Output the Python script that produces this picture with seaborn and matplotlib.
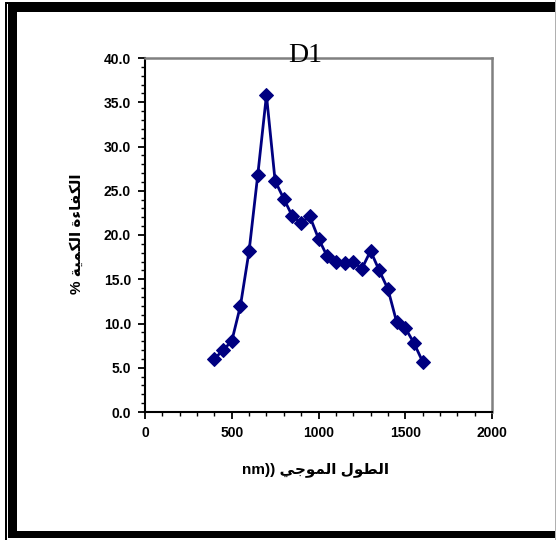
import numpy as np
import pandas as pd
import matplotlib
matplotlib.use('Agg')
import matplotlib.pyplot as plt
from matplotlib.patches import Rectangle
from matplotlib.ticker import MultipleLocator, FormatStrFormatter
import seaborn as sns

# data
wavelength = [400, 450, 500, 550, 600, 650, 700, 750, 800, 850, 900, 950, 1000,
              1050, 1100, 1150, 1200, 1250, 1300, 1350, 1400, 1450, 1500, 1550, 1600]
efficiency = [6.0, 7.0, 8.0, 12.0, 18.2, 26.8, 35.8, 26.1, 24.1, 22.1, 21.4, 22.1, 19.6,
              17.6, 17.0, 16.8, 17.0, 16.2, 18.2, 16.0, 13.9, 10.2, 9.5, 7.8, 5.7]
x_ticks = [0, 500, 1000, 1500, 2000]
y_ticks = [0, 5, 10, 15, 20, 25, 30, 35, 40]
title = 'D1'
xlabel_ar = ['الطول', 'الموجي']
xlabel_unit = 'nm))'
ylabel_ar = ['الكفاءة', 'الكمية']

# --- minimal arabic shaping (matplotlib has no bidi / joining) ---
FORMS = {  # isolated, final, initial, medial
    'ا': ('\uFE8D', '\uFE8E', None, None),
    'ل': ('\uFEDD', '\uFEDE', '\uFEDF', '\uFEE0'),
    'ك': ('\uFED9', '\uFEDA', '\uFEDB', '\uFEDC'),
    'ف': ('\uFED1', '\uFED2', '\uFED3', '\uFED4'),
    'ء': ('\uFE80', None, None, None),
    'ة': ('\uFE93', '\uFE94', None, None),
    'م': ('\uFEE1', '\uFEE2', '\uFEE3', '\uFEE4'),
    'ي': ('\uFEF1', '\uFEF2', '\uFEF3', '\uFEF4'),
    'ط': ('\uFEC1', '\uFEC2', '\uFEC3', '\uFEC4'),
    'و': ('\uFEED', '\uFEEE', None, None),
    'ج': ('\uFE9D', '\uFE9E', '\uFE9F', '\uFEA0'),
}


def dual(c):
    return c in FORMS and FORMS[c][2] is not None


def joins_right(c):
    return c in FORMS and FORMS[c][1] is not None


def shape(word):
    out = []
    for i, c in enumerate(word):
        if c not in FORMS:
            out.append(c)
            continue
        prev = i > 0 and dual(word[i - 1]) and joins_right(c)
        nxt = i < len(word) - 1 and dual(c) and joins_right(word[i + 1])
        f = FORMS[c]
        if prev and nxt:
            g = f[3]
        elif prev:
            g = f[1]
        elif nxt:
            g = f[2]
        else:
            g = f[0]
        out.append(g)
    return ''.join(out)[::-1]


def visual(words, left=''):
    # words in logical (rtl) order -> visual left to right string
    parts = [shape(w) for w in words][::-1]
    return (left + ' ' if left else '') + ' '.join(parts)


df = pd.DataFrame({'wl': wavelength, 'eff': efficiency})

W, H = 556, 540
fig = plt.figure(figsize=(W / 100, H / 100), dpi=100)
sns.set_style('white')
plt.rcParams['font.family'] = ['Liberation Sans', 'DejaVu Sans']
plt.rcParams['text.color'] = 'black'

ax = fig.add_axes([145 / W, 1 - 412 / H, (492 - 145) / W, (412 - 58) / H])
sns.lineplot(data=df, x='wl', y='eff', ax=ax, color='#000080', lw=2,
             marker='D', markersize=7, markeredgecolor='#000080')

ax.set_xlim(0, 2000)
ax.set_ylim(0, 40)
ax.set_xticks(x_ticks)
ax.set_yticks(y_ticks)
ax.xaxis.set_minor_locator(MultipleLocator(100))
ax.yaxis.set_minor_locator(MultipleLocator(1))
ax.yaxis.set_major_formatter(FormatStrFormatter('%.1f'))
ax.tick_params(which='major', direction='out', length=5, width=1.3, color='black',
               labelcolor='black', labelsize=10, pad=5, bottom=True, left=True)
ax.tick_params(which='minor', direction='out', length=3, width=1, color='black',
               bottom=True, left=True)
ax.tick_params(axis='x', pad=5)
for lab in ax.get_xticklabels() + ax.get_yticklabels():
    lab.set_fontweight('bold')
    lab.set_family(['Liberation Sans'])

for side in ['left', 'bottom']:
    ax.spines[side].set_color('black')
    ax.spines[side].set_linewidth(1.5)
for side in ['top', 'right']:
    ax.spines[side].set_color('#808080')
    ax.spines[side].set_linewidth(1.8)

ax.set_xlabel('')
ax.set_ylabel('')

fig.text(305 / W, 1 - 56 / H, title, family=['Liberation Serif'], fontsize=20,
         ha='center', va='center', color='black')
fig.text(316 / W, 1 - 470 / H, visual(xlabel_ar, xlabel_unit),
         fontsize=11, fontweight='bold', ha='center', va='center', color='black',
         family=['Liberation Sans', 'DejaVu Sans'])
fig.text(77 / W, 1 - 234 / H, visual(ylabel_ar, '%'),
         fontsize=11, fontweight='bold', ha='center', va='center', rotation=90,
         color='black', family=['Liberation Sans', 'DejaVu Sans'])


# page frame
def px_rect(x0, y0, x1, y1, **kw):
    fig.add_artist(Rectangle((x0 / W, 1 - y1 / H), (x1 - x0) / W, (y1 - y0) / H,
                             transform=fig.transFigure, **kw))


px_rect(0, 0, W, H, facecolor='white', edgecolor='none', zorder=-5)
# thin outer line
px_rect(5, 2, 5 + 1.7, 540, facecolor='black', edgecolor='none')
px_rect(5, 2, W, 3.5, facecolor='black', edgecolor='none')
# thick inner band
px_rect(8.3, 4.5, 16.7, 538, facecolor='black', edgecolor='none')
px_rect(8.3, 4.5, W, 11.7, facecolor='black', edgecolor='none')
px_rect(8.3, 531, W, 538, facecolor='black', edgecolor='none')
# right edge
px_rect(554.5, 0, 556, 540, facecolor='#b0b0b0', edgecolor='none')

fig.savefig('out.png', dpi=100)
